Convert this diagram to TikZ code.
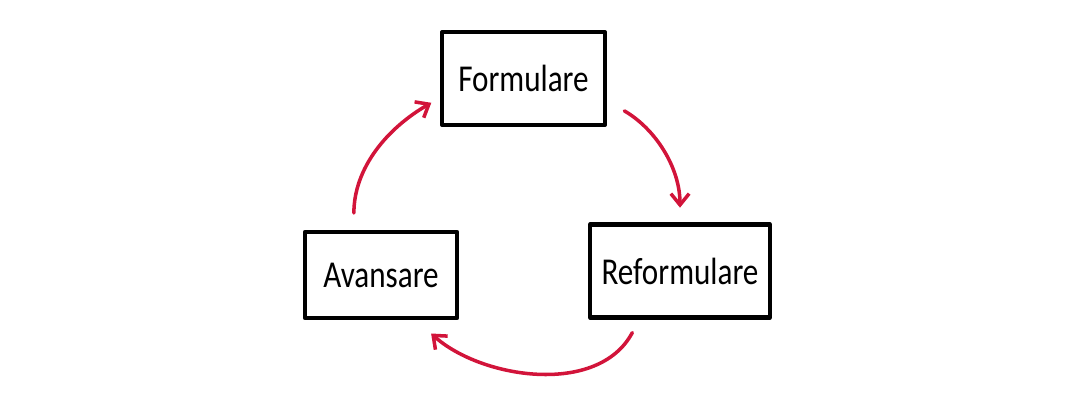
\documentclass[tikz,border=0pt]{standalone}
\usepackage{fontspec}
\newfontfamily\handfont[FakeStretch=0.82]{Carlito}
\usetikzlibrary{arrows.meta}
\definecolor{loopred}{HTML}{D2143A}
\begin{document}
\begin{tikzpicture}[x=0.025cm,y=-0.025cm,
  stage/.style={draw,line width=3pt,line join=round,rectangle,inner sep=0pt,
    font=\handfont\fontsize{27}{30}\selectfont},
  loop/.style={draw=loopred,line width=2.5pt,line cap=round,
    -{Straight Barb[length=8pt,width=13pt,line width=2.5pt]}}]
\useasboundingbox (0,0) rectangle (1080,400);
\node [stage,minimum width=4.07cm,minimum height=2.32cm] (form) at (523.5,78.5) {Formulare};
\node [stage,minimum width=4.5cm,minimum height=2.32cm] (reform) at (680,271) {Reformulare};
\node [stage,minimum width=3.8cm,minimum height=2.15cm] (avans) at (381,275) {Avansare};
\draw [loop,shorten <=0.5cm,shorten >=0.37cm] (form.-15) to[out=-30,in=90] (reform.north);
\draw [loop,shorten <=0.37cm,shorten >=0.5cm] (reform.-130) to[out=-118,in=-42] (avans.-52);
\draw [loop,shorten <=0.42cm,shorten >=0.25cm] (avans.121) to[out=90,in=210] (form.193);
\end{tikzpicture}
\end{document}
